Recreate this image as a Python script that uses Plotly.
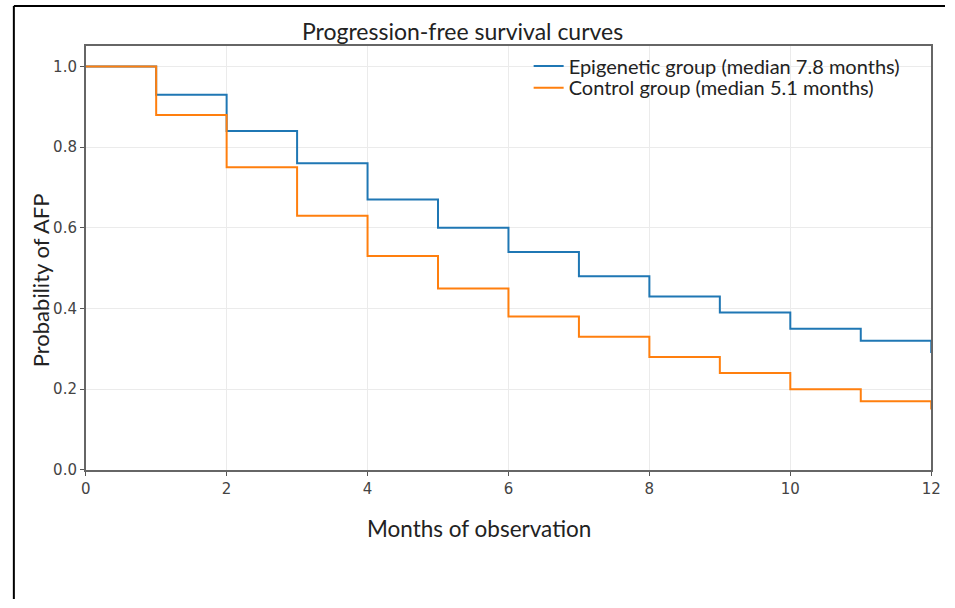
import plotly.graph_objects as go

months = [0, 1, 2, 3, 4, 5, 6, 7, 8, 9, 10, 11, 12, 12]
epigenetic = [1.0, 0.93, 0.84, 0.76, 0.67, 0.60, 0.54, 0.48, 0.43, 0.39, 0.35, 0.32, 0.32, 0.29]
control = [1.0, 0.88, 0.75, 0.63, 0.53, 0.45, 0.38, 0.33, 0.28, 0.24, 0.20, 0.17, 0.17, 0.15]
names = ["Epigenetic group (median 7.8 months)", "Control group (median 5.1 months)"]
colors = ["#1f77b4", "#ff7f0e"]
x_ticks = [0, 2, 4, 6, 8, 10, 12]
y_ticks = [0.0, 0.2, 0.4, 0.6, 0.8, 1.0]

W, H = 955, 608
x0, x1 = 82 / W, 941 / W
y0, y1 = 1 - 477 / H, 1 - 47 / H

fig = go.Figure()
for ys, nm, c, lg in zip([epigenetic, control], names, colors, ["legend", "legend2"]):
    fig.add_trace(go.Scatter(x=months, y=ys, mode="lines", name=nm, legend=lg,
                             line=dict(color=c, width=2, shape="hv")))

axis_common = dict(showline=True, linecolor="#666", linewidth=1.5, mirror=True,
                   ticks="outside", ticklen=4, tickcolor="#555",
                   gridcolor="#ebebeb", gridwidth=1, zeroline=False,
                   tickfont=dict(family="DejaVu Sans", size=15, color="#444"))

legend_common = dict(xanchor="left", yanchor="middle", xref="paper", yref="paper",
                     bgcolor="rgba(255,255,255,0)", borderwidth=0,
                     font=dict(family="Lato", size=20, color="#222"),
                     itemwidth=30)

fig.update_layout(
    width=W, height=H,
    margin=dict(l=0, r=0, t=0, b=0),
    paper_bgcolor="white", plot_bgcolor="white",
    font=dict(family="Lato", color="#222"),
    xaxis=dict(domain=[x0, x1], range=[0, 12], tickvals=x_ticks,
               ticktext=[str(v) for v in x_ticks], **axis_common),
    yaxis=dict(domain=[y0, y1], range=[0, 1.05], tickvals=y_ticks,
               ticktext=[f"{v:.1f}" for v in y_ticks], **axis_common),
    legend=dict(x=532 / W, y=1 - 67 / H, **legend_common),
    legend2=dict(x=532 / W, y=1 - 89 / H, **legend_common),
    showlegend=True,
)

fig.add_annotation(text="Progression-free survival curves", x=465 / W, y=1 - 31 / H,
                   xref="paper", yref="paper", showarrow=False,
                   xanchor="center", yanchor="middle",
                   font=dict(family="Lato", size=23, color="#222"))
fig.add_annotation(text="Months of observation", x=482 / W, y=1 - 536 / H,
                   xref="paper", yref="paper", showarrow=False,
                   xanchor="center", yanchor="middle",
                   font=dict(family="Lato", size=22.5, color="#222"))
fig.add_annotation(text="Probability of AFP", x=36 / W, y=1 - 284 / H,
                   xref="paper", yref="paper", showarrow=False, textangle=-90,
                   xanchor="center", yanchor="middle",
                   font=dict(family="Lato", size=22, color="#222"))

# outer document frame
fig.add_shape(type="line", xref="paper", yref="paper",
              x0=9 / W, x1=1, y0=1 - 6 / H, y1=1 - 6 / H,
              line=dict(color="black", width=2))
fig.add_shape(type="line", xref="paper", yref="paper",
              x0=9 / W, x1=9 / W, y0=1 - 6 / H, y1=0,
              line=dict(color="black", width=2))

fig.write_html("out.html", config={"displayModeBar": False},
               post_script="document.body.style.margin='0';document.body.style.overflow='hidden';")
